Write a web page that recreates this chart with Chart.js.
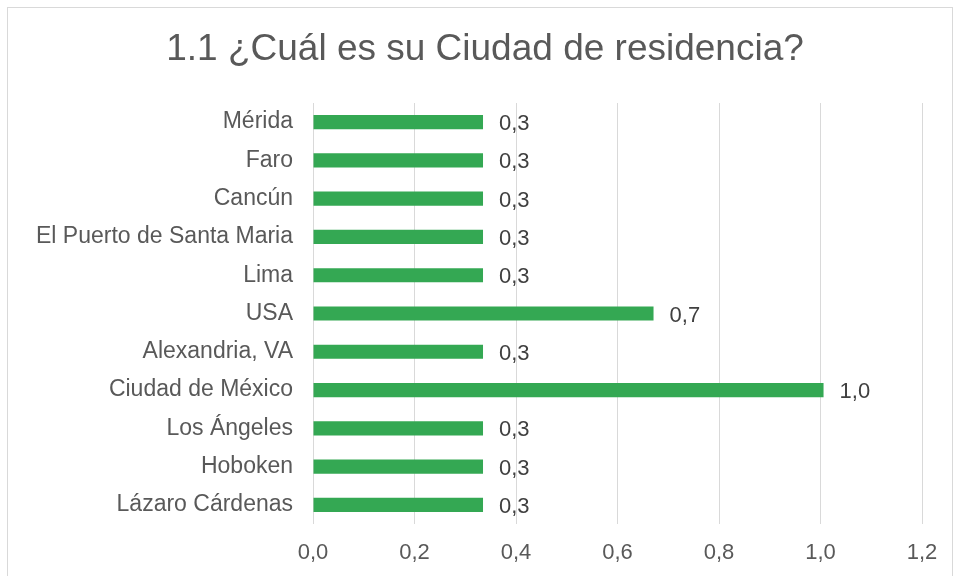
<!DOCTYPE html>
<html>
<head>
<meta charset="utf-8">
<script src="https://cdn.jsdelivr.net/npm/chart.js@4/dist/chart.umd.min.js"></script>
<style>
    html, body { margin: 0; padding: 0; background: #fff; }
    .frame {
        position: absolute; left: 7px; top: 7px; width: 946px; height: 600px;
        border: 1px solid #d9d9d9; box-sizing: border-box;
    }
    .wrap { position: absolute; left: 0; top: 0; width: 955px; height: 576px; }
</style>
</head>
<body>
<div class="frame"></div>
<div class="wrap"><canvas id="chart" width="955" height="576"></canvas></div>
<script>
const titleText = '1.1 ¿Cuál es su Ciudad de residencia?';
const cities = ['Mérida', 'Faro', 'Cancún', 'El Puerto de Santa Maria', 'Lima', 'USA',
    'Alexandria, VA', 'Ciudad de México', 'Los Ángeles', 'Hoboken', 'Lázaro Cárdenas'];
const values = [0.335, 0.335, 0.335, 0.335, 0.335, 0.671, 0.335, 1.006, 0.335, 0.335, 0.335];
const xTicks = [0, 0.2, 0.4, 0.6, 0.8, 1.0, 1.2];

const FONT = '"Liberation Sans", Arial, sans-serif';
const fmt = v => v.toFixed(1).replace('.', ',');

// Value labels at bar ends + title centred on the frame
const extras = {
    id: 'extras',
    afterDatasetsDraw(chart) {
        const ctx = chart.ctx;
        const meta = chart.getDatasetMeta(0);
        ctx.save();
        ctx.font = '22px ' + FONT;
        ctx.fillStyle = '#404040';
        ctx.textAlign = 'left';
        ctx.textBaseline = 'middle';
        meta.data.forEach((bar, i) => {
            ctx.fillText(fmt(values[i]), bar.x + 16, bar.y + 2);
        });
        ctx.font = '37px ' + FONT;
        ctx.fillStyle = '#595959';
        ctx.textAlign = 'center';
        ctx.fillText(titleText, 485, 50);
        ctx.restore();
    }
};

new Chart(document.getElementById('chart'), {
    type: 'bar',
    data: {
        labels: cities,
        datasets: [{
            data: values,
            backgroundColor: '#34a853',
            barPercentage: 0.37,
            categoryPercentage: 1
        }]
    },
    options: {
        indexAxis: 'y',
        responsive: false,
        animation: false,
        layout: { padding: { left: 0, right: 33, top: 103, bottom: 0 } },
        plugins: {
            legend: { display: false },
            tooltip: { enabled: false },
            title: { display: false }
        },
        scales: {
            x: {
                min: 0,
                max: 1.2,
                afterBuildTicks: scale => { scale.ticks = xTicks.map(v => ({ value: v })); },
                afterFit: scale => { scale.height = 52; },
                grid: { color: '#d9d9d9', drawTicks: false },
                border: { display: false },
                ticks: {
                    callback: v => fmt(v),
                    color: '#595959',
                    padding: 16,
                    font: { family: FONT, size: 22 }
                }
            },
            y: {
                afterFit: scale => { scale.width = 313; },
                grid: { display: false, drawTicks: false },
                border: { display: false },
                ticks: {
                    color: '#595959',
                    padding: 20,
                    autoSkip: false,
                    font: { family: FONT, size: 23 }
                }
            }
        }
    },
    plugins: [extras]
});
</script>
</body>
</html>
